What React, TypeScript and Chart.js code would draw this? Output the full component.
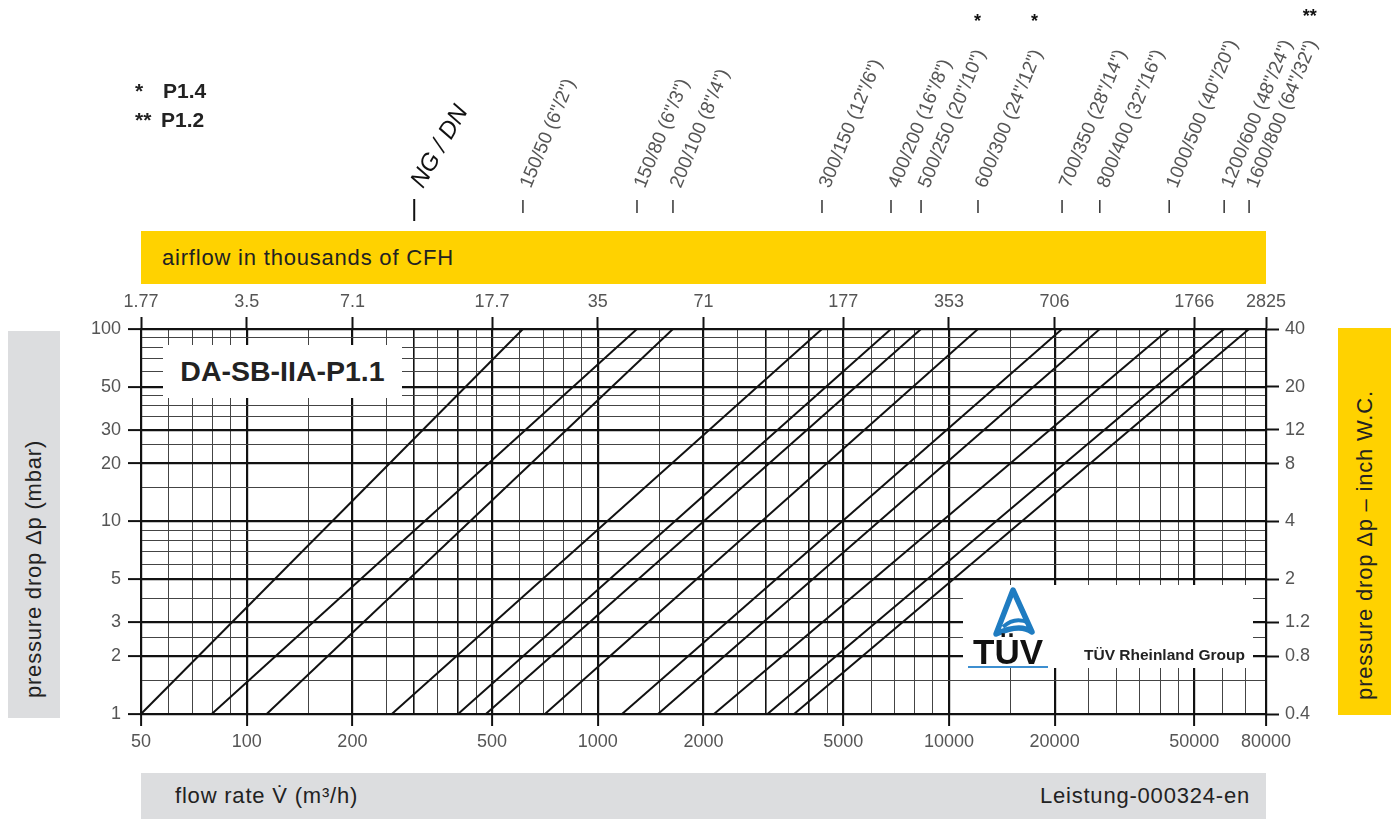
import React, { useEffect, useRef } from 'react';
import { Chart, registerables } from 'chart.js';
Chart.register(...registerables);

const FONT = '"Liberation Sans", Arial, Helvetica, sans-serif';

// Nominal sizes (NG/DN) of the valves
const sizeLabels = ['150/50 (6"/2")', '150/80 (6"/3")', '200/100 (8"/4")', '300/150 (12"/6")', '400/200 (16"/8")', '500/250 (20"/10")', '600/300 (24"/12")', '700/350 (28"/14")', '800/400 (32"/16")', '1000/500 (40"/20")', '1200/600 (48"/24")', '1600/800 (64"/32")'];
const sizeMarks = ['', '', '', '', '', '*', '*', '', '', '', '', '**'];
// flow rate (m³/h) at 1 mbar and at 100 mbar pressure drop
const flowAt1mbar = [50, 79.5, 114, 259, 400, 480, 707, 1172, 1484, 2142, 3041, 3622];
const flowAt100mbar = [612, 1293, 1637, 4350, 6840, 8330, 12100, 21000, 26900, 42400, 60800, 71600];
const ngdnHeaderFlow = 300;

// axes
const flowTicks = [50, 100, 200, 500, 1000, 2000, 5000, 10000, 20000, 50000, 80000];
const cfhLabels = ['1.77', '3.5', '7.1', '17.7', '35', '71', '177', '353', '706', '1766', '2825'];
const mbarTicks = [1, 2, 3, 5, 10, 20, 30, 50, 100];
const inchWcLabels = ['0.4', '0.8', '1.2', '2', '4', '8', '12', '20', '40'];
const flowGrid = [50, 60, 70, 80, 90, 100, 150, 200, 250, 300, 350, 400, 450, 500, 600, 700, 800, 900, 1000, 1500, 2000, 2500, 3000, 3500, 4000, 4500, 5000, 6000, 7000, 8000, 9000, 10000, 15000, 20000, 25000, 30000, 35000, 40000, 45000, 50000, 60000, 70000, 80000];
const flowMedium = [300, 400, 3000, 4000];
const mbarGrid = [1, 1.5, 2, 2.5, 3, 4, 5, 6, 7, 8, 9, 10, 15, 20, 25, 30, 35, 40, 45, 50, 60, 70, 80, 90, 100];

const W = 1396;
const H = 819;
const TRANSPARENT = 'rgba(0,0,0,0)';

const sizeLabelPlugin = {
  id: 'sizeLabels',
  afterDraw(chart: any) {
    const ctx = chart.ctx as CanvasRenderingContext2D;
    const xs = chart.scales.x;
    ctx.save();
    // NG / DN header
    const xn = xs.getPixelForValue(ngdnHeaderFlow);
    ctx.strokeStyle = '#111';
    ctx.lineWidth = 2;
    ctx.beginPath();
    ctx.moveTo(xn, 199);
    ctx.lineTo(xn, 221);
    ctx.stroke();
    ctx.save();
    ctx.translate(xn + 3, 186);
    ctx.rotate((-60 * Math.PI) / 180);
    ctx.font = `italic 24px ${FONT}`;
    ctx.fillStyle = '#111';
    ctx.textAlign = 'left';
    ctx.textBaseline = 'middle';
    ctx.fillText('NG / DN', 0, 0);
    ctx.restore();

    const ang = (67.5 * Math.PI) / 180;
    flowAt100mbar.forEach((q, i) => {
      const x = xs.getPixelForValue(q);
      ctx.strokeStyle = '#333';
      ctx.lineWidth = 1.5;
      ctx.beginPath();
      ctx.moveTo(x, 200);
      ctx.lineTo(x, 213);
      ctx.stroke();
      ctx.save();
      ctx.translate(x + 3, 187);
      ctx.rotate(-ang);
      ctx.font = `19px ${FONT}`;
      ctx.fillStyle = '#555';
      ctx.textAlign = 'left';
      ctx.textBaseline = 'middle';
      ctx.fillText(sizeLabels[i], 0, 0);
      const w = ctx.measureText(sizeLabels[i]).width;
      ctx.restore();
      if (sizeMarks[i]) {
        const ex = x + 3 + w * Math.cos(ang);
        ctx.font = `bold 18px ${FONT}`;
        ctx.fillStyle = '#111';
        ctx.textAlign = 'center';
        ctx.textBaseline = 'middle';
        ctx.fillText(sizeMarks[i], ex - 3, sizeMarks[i].length > 1 ? 17 : 22);
      }
    });
    ctx.restore();
  },
};

export default function App() {
  const ref = useRef<HTMLCanvasElement>(null);
  useEffect(() => {
    const canvas = ref.current!;
    const tickFont = { family: FONT, size: 18 };
    const chart = new Chart(canvas, {
      type: 'scatter',
      data: {
        datasets: flowAt1mbar.map((q, i) => ({
          label: sizeLabels[i],
          data: [
            { x: q, y: 1 },
            { x: flowAt100mbar[i], y: 100 },
          ],
          showLine: true,
          borderColor: '#111',
          borderWidth: 2,
          pointRadius: 0,
          xAxisID: 'x',
          yAxisID: 'y',
        })),
      },
      options: {
        responsive: false,
        animation: false,
        layout: { padding: 0 },
        plugins: { legend: { display: false }, tooltip: { enabled: false } },
        scales: {
          x: {
            type: 'logarithmic',
            position: 'bottom',
            min: 50,
            max: 80000,
            afterBuildTicks: (s: any) => {
              s.ticks = flowGrid.map((v) => ({ value: v }));
            },
            afterFit: (s: any) => {
              s.height = H - 714;
            },
            ticks: {
              autoSkip: false,
              maxRotation: 0,
              minRotation: 0,
              padding: 5,
              color: '#555',
              font: tickFont,
              callback: (v: any) => (flowTicks.includes(Number(v)) ? String(v) : ''),
            },
            grid: {
              color: (c: any) => (flowTicks.includes(c.tick?.value) || flowMedium.includes(c.tick?.value) ? '#111' : '#444'),
              lineWidth: (c: any) => (flowTicks.includes(c.tick?.value) ? 2.2 : flowMedium.includes(c.tick?.value) ? 1.6 : 1),
              tickLength: 12,
              tickWidth: 2,
              tickColor: (c: any) => (flowTicks.includes(c.tick?.value) ? '#111' : TRANSPARENT),
            },
            border: { display: true, color: '#111', width: 2 },
          },
          x2: {
            type: 'logarithmic',
            position: 'top',
            min: 50,
            max: 80000,
            afterBuildTicks: (s: any) => {
              s.ticks = flowTicks.map((v) => ({ value: v }));
            },
            afterFit: (s: any) => {
              s.height = 329;
            },
            ticks: {
              autoSkip: false,
              maxRotation: 0,
              minRotation: 0,
              padding: 4,
              color: '#555',
              font: tickFont,
              callback: (v: any) => cfhLabels[flowTicks.indexOf(Number(v))] ?? '',
            },
            grid: { drawOnChartArea: false, tickLength: 12, tickWidth: 2, color: '#111' },
            border: { display: true, color: '#111', width: 2 },
          },
          y: {
            type: 'logarithmic',
            position: 'left',
            min: 1,
            max: 100,
            afterBuildTicks: (s: any) => {
              s.ticks = mbarGrid.map((v) => ({ value: v }));
            },
            afterFit: (s: any) => {
              s.width = 141;
            },
            ticks: {
              autoSkip: false,
              padding: 7,
              color: '#555',
              font: tickFont,
              callback: (v: any) => (mbarTicks.includes(Number(v)) ? String(v) : ''),
            },
            grid: {
              color: (c: any) => (mbarTicks.includes(c.tick?.value) ? '#111' : '#444'),
              lineWidth: (c: any) => (mbarTicks.includes(c.tick?.value) ? 2.2 : 1),
              tickLength: 13,
              tickWidth: 2,
              tickColor: (c: any) => (mbarTicks.includes(c.tick?.value) ? '#111' : TRANSPARENT),
            },
            border: { display: true, color: '#111', width: 2 },
          },
          y2: {
            type: 'logarithmic',
            position: 'right',
            min: 1,
            max: 100,
            afterBuildTicks: (s: any) => {
              s.ticks = mbarTicks.map((v) => ({ value: v }));
            },
            afterFit: (s: any) => {
              s.width = W - 1266;
            },
            ticks: {
              autoSkip: false,
              padding: 6,
              color: '#555',
              font: tickFont,
              callback: (v: any) => inchWcLabels[mbarTicks.indexOf(Number(v))] ?? '',
            },
            grid: { drawOnChartArea: false, tickLength: 13, tickWidth: 2, color: '#111' },
            border: { display: true, color: '#111', width: 2 },
          },
        },
      },
      plugins: [sizeLabelPlugin],
    } as any);
    return () => chart.destroy();
  }, []);

  const barText: React.CSSProperties = { fontSize: 22, letterSpacing: 0.8, color: '#222', whiteSpace: 'nowrap' };

  return (
    <div style={{ position: 'absolute', left: 0, top: 0, width: W, height: H, overflow: 'hidden', background: '#fff', fontFamily: FONT }}>
      <canvas ref={ref} width={W} height={H} style={{ position: 'absolute', left: 0, top: 0, width: W, height: H }} />

      {/* legend of asterisks */}
      <div style={{ position: 'absolute', left: 135, top: 76, fontWeight: 'bold', fontSize: 21, lineHeight: '29px', color: '#222' }}>
        <div><span style={{ display: 'inline-block', width: 28 }}>*</span>P1.4</div>
        <div><span style={{ display: 'inline-block', width: 26 }}>**</span>P1.2</div>
      </div>

      {/* top yellow bar */}
      <div style={{ position: 'absolute', left: 141, top: 231, width: 1125, height: 53, background: '#ffd200', display: 'flex', alignItems: 'center' }}>
        <span style={{ ...barText, marginLeft: 21 }}>airflow in thousands of CFH</span>
      </div>

      {/* bottom grey bar */}
      <div style={{ position: 'absolute', left: 141, top: 773, width: 1125, height: 46, background: '#dcdddf', display: 'flex', alignItems: 'center', justifyContent: 'space-between' }}>
        <span style={{ ...barText, marginLeft: 34 }}>flow rate V̇ (m³/h)</span>
        <span style={{ ...barText, marginRight: 16 }}>Leistung-000324-en</span>
      </div>

      {/* left grey box */}
      <div style={{ position: 'absolute', left: 8, top: 331, width: 52, height: 387, background: '#dcdddf' }}>
        <span style={{ ...barText, position: 'absolute', left: '50%', top: 238, transform: 'translate(-50%, -50%) rotate(-90deg)' }}>pressure drop Δp (mbar)</span>
      </div>

      {/* right yellow box */}
      <div style={{ position: 'absolute', left: 1338, top: 328, width: 53, height: 387, background: '#ffd200' }}>
        <span style={{ ...barText, position: 'absolute', left: '50%', top: 217, transform: 'translate(-50%, -50%) rotate(-90deg)' }}>pressure drop Δp – inch W.C.</span>
      </div>

      {/* chart title box */}
      <div style={{ position: 'absolute', left: 163, top: 345, width: 239, height: 53, background: '#fff', display: 'flex', alignItems: 'center', justifyContent: 'center' }}>
        <span style={{ fontWeight: 'bold', fontSize: 28.5, color: '#222', whiteSpace: 'nowrap' }}>DA-SB-IIA-P1.1</span>
      </div>

      {/* TÜV box */}
      <div style={{ position: 'absolute', left: 963, top: 585, width: 290, height: 83, background: '#fff' }}>
        <svg width="50" height="56" viewBox="0 0 50 56" style={{ position: 'absolute', left: 25, top: 1 }}>
          <path d="M25 4 L44 46 Q32 37 8 48 Z" fill="none" stroke="#1f7cc1" strokeWidth="5.5" strokeLinejoin="round" />
          <path d="M15 41 Q27 30 41 37" fill="none" stroke="#1f7cc1" strokeWidth="4" />
        </svg>
        <div style={{ position: 'absolute', left: 4, top: 50, width: 82, textAlign: 'center', fontWeight: 'bold', fontSize: 35, lineHeight: '34px', color: '#111' }}>TÜV</div>
        <div style={{ position: 'absolute', left: 5, top: 81, width: 80, height: 2, background: '#3d8fd0' }} />
        <div style={{ position: 'absolute', left: 121, top: 60, fontWeight: 'bold', fontSize: 15.5, lineHeight: '20px', color: '#222', whiteSpace: 'nowrap' }}>TÜV Rheinland Group</div>
      </div>
    </div>
  );
}
